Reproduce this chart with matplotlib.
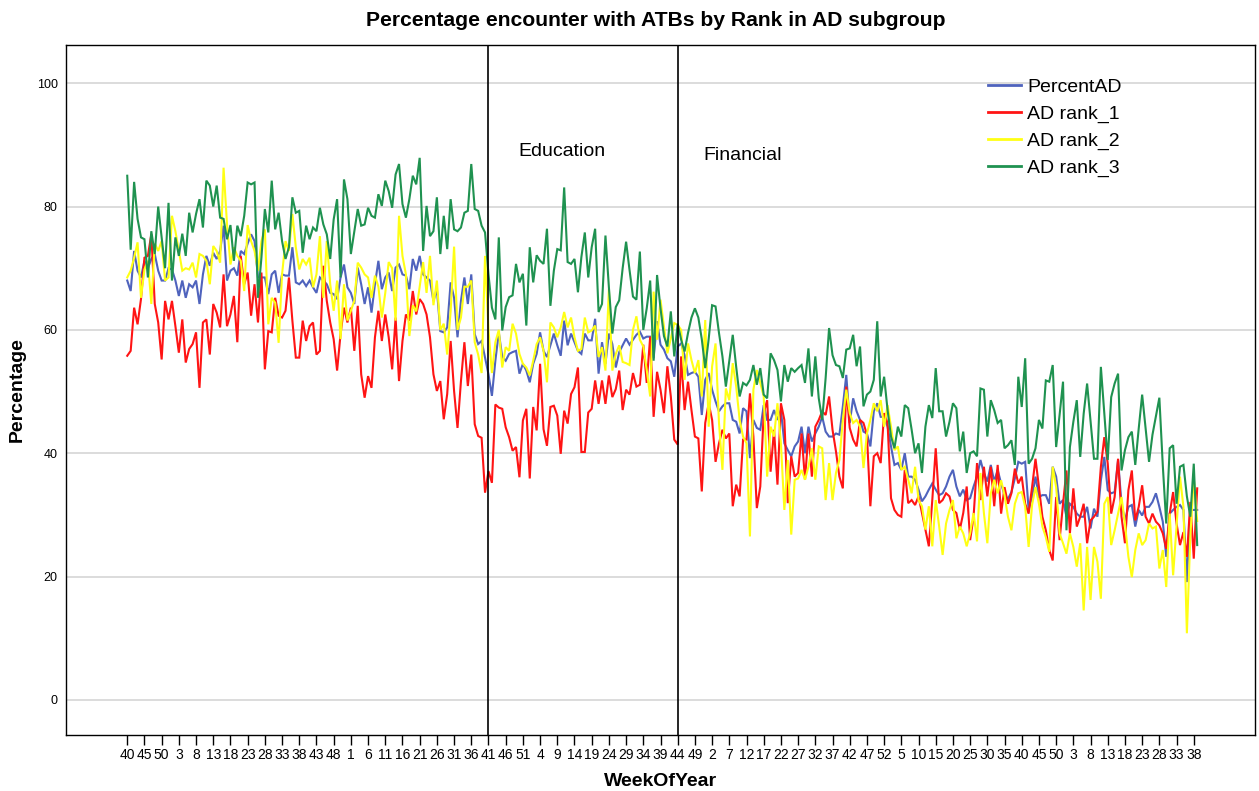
import matplotlib
matplotlib.use("Agg")
import matplotlib.pyplot as plt

plt.rcParams['font.family'] = ['Liberation Sans', 'DejaVu Sans']

tick_labels = ["40", "45", "50", "3", "8", "13", "18", "23", "28", "33", "38", "43", "48",
               "1", "6", "11", "16", "21", "26", "31", "36", "41", "46", "51",
               "4", "9", "14", "19", "24", "29", "34", "39", "44", "49",
               "2", "7", "12", "17", "22", "27", "32", "37", "42", "47", "52",
               "5", "10", "15", "20", "25", "30", "35", "40", "45", "50",
               "3", "8", "13", "18", "23", "28", "33", "38"]

percent_ad = [
    68, 66.3, 72.8, 69.6, 68.5, 71.2, 70, 71.5, 72.3, 69.6, 68, 68, 70, 69.8, 68, 65.5, 68, 65.2,
    67.4, 66.9, 68, 64.2, 69, 72, 70.4, 72.5, 71.5, 72.8, 76.9, 68, 69.6, 70, 68.8, 72.8, 72.3, 74,
    75.5, 74.4, 68.5, 68.5, 68.5, 65.8, 69, 69.6, 66, 69, 68.8, 68.8, 73.4, 67.7, 67.4, 68, 67.1, 68,
    66.9, 66, 68.5, 68, 67.4, 66, 65.8, 65, 68.5, 70.6, 66.9, 66, 64.2, 70.1, 67.4, 64.2, 66.9, 62.8, 67.4,
    71.2, 66.6, 68.5, 69.3, 66.3, 70.1, 70.6, 69, 68.8, 66.6, 71.5, 69.6, 72, 69, 68.5, 68, 64.7, 66.6,
    59.8, 59.6, 60.4, 67.7, 65.2, 58.8, 64.7, 68.5, 64.2, 69, 59.3, 57.7, 58.2, 55.5, 52.8, 49.3, 55, 59.6,
    55.6, 55, 56.1, 56.4, 56.6, 52.9, 54.5, 53.4, 51.5, 54.5, 56.1, 59.6, 56.6, 55.6, 57.5, 59.4, 57.5, 55.8,
    61.5, 57.5, 59.4, 58, 56.6, 56.1, 59.4, 58.3, 58.3, 61.8, 52.9, 58, 54.5, 59.4, 57.7, 53.9, 56.4, 57.5,
    58.6, 57.6, 58.4, 59.2, 59.7, 58.6, 58.9, 58.9, 55.4, 61.4, 57.6, 56.8, 55.4, 54.9, 52.4, 57.3, 57.8, 55.9,
    52.7, 53, 53.2, 52.4, 46.2, 51.9, 53, 50.3, 48.4, 46.8, 47.6, 48.1, 48.1, 45.4, 45.1, 43.2, 47.3, 46.8,
    39.2, 45.4, 44.1, 43.8, 47.8, 45.4, 45.4, 47, 45.4, 47, 41.6, 40.5, 39.5, 41.1, 41.9, 44.3, 40, 44.3, 41.9,
    43.2, 44.3, 45.9, 43.5, 42.7, 42.7, 43.2, 43, 47.6, 52.7, 44.9, 48.9, 46.8, 45.4, 43.5, 43.2, 41.1, 46.8,
    48.1, 45.9, 45.9, 44.3, 41.1, 38.1, 38.4, 37.3, 40, 36.2, 36.2, 35.7, 34.1, 32.2, 33, 34.1, 35.1, 34.1,
    33.2, 33.5, 34.6, 36.2, 37.3, 34.6, 33, 34.1, 32.4, 32.7, 34.6, 36.2, 38.9, 36.8, 35.4, 38.1, 35.4, 37.3,
    35.1, 33.2, 32.6, 33.7, 35.9, 38.6, 38.3, 38.6, 30.8, 32.9, 36.2, 32.9, 33.2, 33.2, 31.8, 37.8, 36.2, 31.8,
    32.4, 29.7, 31.8, 31.3, 30.2, 29.7, 29.7, 31.3, 27.8, 31, 29.7, 35.6, 39.4, 34, 33.5, 33.7, 38.9, 31.8, 29.1,
    31.3, 31.6, 28.1, 30.8, 29.9, 31.3, 31.3, 32.1, 33.5, 31.3, 28.9, 23.2, 30.2, 30.8, 31.3, 31.6, 30.8, 19.1,
    30.8, 30.8, 30.8]

ad_rank_1 = [
    55.8, 56.6, 63.6, 60.9, 65, 71.7, 72, 75.5, 64.2, 61.2, 55.2, 64.7, 61.7, 64.7, 60.6, 56.3, 61.7, 54.7,
    56.9, 57.7, 59.6, 50.6, 61.2, 61.7, 56, 64.2, 62.8, 60.4, 69, 60.6, 62.5, 65.5, 58, 72, 67.4, 69.3,
    62.3, 67.4, 61.2, 69.3, 53.6, 59.8, 59.6, 65.2, 62.3, 62, 63.1, 68.5, 61.5, 55.5, 55.5, 61.5, 58.2, 60.6,
    61.2, 56, 56.6, 70.4, 64.7, 61.2, 58.5, 53.4, 59.3, 63.6, 61.2, 63.6, 56.6, 63.9, 52.8, 49, 52.5, 50.6, 58.8,
    63.1, 58.2, 62.5, 58.8, 53.6, 62, 51.7, 58.2, 62.5, 61.5, 66.3, 62.5, 65, 64.2, 62.5, 58.8, 52.8, 50.1,
    51.7, 45.5, 49.6, 58.2, 50.1, 44.1, 51.7, 58, 50.9, 56, 44.7, 42.8, 42.5, 33.6, 37.1, 35.2, 47.9, 47.4,
    47.2, 44.2, 42.6, 40.4, 41, 36.1, 45.3, 47.2, 35.9, 47.5, 43.7, 54.5, 43.9, 41.2, 47.5, 47.7, 46.1, 39.9,
    46.9, 44.8, 49.6, 50.7, 53.9, 40.2, 40.2, 46.6, 47.2, 51.8, 48, 51.8, 48, 52.6, 49.1, 50.4, 53.4, 47,
    50.3, 49.5, 53, 50.8, 51.1, 57.6, 51.4, 58.9, 45.9, 53.2, 50.3, 46.5, 54.1, 49.2, 42.2, 41.4, 55.7, 47,
    51.6, 47, 42.7, 42.4, 33.8, 44.9, 48.1, 45.4, 38.6, 41.6, 43.8, 42.4, 43.2, 31.4, 34.9, 33, 42.2, 42.2,
    49.7, 42.7, 31.1, 34.6, 46.5, 48.6, 37, 43.8, 34.9, 48.1, 45.4, 31.9, 39.5, 36.2, 36.8, 43.2, 35.7, 43.2, 36.2,
    44.3, 45.4, 46.8, 46.2, 49.2, 43.8, 40.3, 36.2, 34.3, 50.8, 44.1, 42.2, 41.1, 45.4, 44.9, 43, 31.4, 39.5,
    40, 38.4, 46.5, 44.9, 32.7, 30.8, 30, 29.7, 37.3, 31.9, 32.4, 31.6, 33, 30.3, 27.6, 24.9, 32.4, 40.8,
    31.9, 32.4, 33.5, 33, 30.8, 30.3, 27.6, 30.3, 34.6, 25.9, 29.7, 38.4, 32.4, 37.8, 33, 37.8, 31.4, 38.1,
    30.2, 34.5, 31.8, 33.5, 37.5, 35.1, 36.2, 31.8, 30.2, 34.5, 39.1, 34.5, 29.7, 27.5, 24.3, 22.6, 32.9, 25.9,
    31.8, 37.2, 27, 34.3, 28.1, 29.7, 31.8, 25.4, 29.1, 29.7, 30.5, 37.8, 42.6, 38.3, 30.2, 32.9, 39.1, 29.7, 25.4,
    34, 37.2, 29.1, 31.3, 34.8, 29.7, 28.6, 30.2, 28.9, 28.3, 27, 24.5, 30.2, 33.7, 28.6, 25.1, 27.2, 23.2,
    32.1, 22.9, 34.3]

ad_rank_2 = [
    68.5, 69.6, 71.7, 74.2, 65.2, 69.8, 71.2, 64.2, 74, 72.8, 74.4, 68, 68.5, 78.5, 76, 72.8, 69.6, 70,
    69.8, 70.9, 68.5, 72.3, 72, 71.2, 67.4, 73.6, 72.8, 70.9, 86.3, 77.1, 70.6, 73.4, 72, 71.2, 66.3, 77,
    74.4, 72.8, 69.6, 74.4, 76.3, 60.9, 65.2, 64.4, 57.9, 69, 74.4, 72.8, 78.8, 73.4, 69.8, 71.5, 70.6, 71.7,
    66.9, 69, 75.2, 65.2, 74.4, 67.4, 63.1, 68, 58.5, 67.4, 61.5, 63.1, 64.7, 70.9, 70.1, 69, 68.5, 65.2, 68.8,
    67, 62, 66, 71, 70, 61.5, 78.5, 72, 69, 59, 64, 63, 67, 71, 66, 72, 64, 68,
    60, 61, 56, 63, 73.5, 60, 62, 67, 67, 68, 58, 56, 53, 72, 60, 53, 58, 60,
    53.9, 57.2, 56.6, 61, 59.4, 56.1, 54.5, 53.9, 52.6, 55, 57.7, 58.8, 56.6, 51.5, 61.2, 60.4, 58.8, 60.4,
    62.9, 60.4, 62, 58.8, 56.6, 56.9, 62, 59.6, 59.9, 60.7, 55.6, 57.2, 53.4, 66.6, 53.4, 56.1, 57.5, 54.8,
    54.6, 54.3, 60, 62.2, 58.4, 57.3, 53.5, 49.2, 66.2, 58.4, 64.9, 60.5, 56.2, 58.6, 61.1, 60.8, 60, 51.9,
    57.8, 55.1, 53, 55.1, 49.2, 61.6, 44.3, 54.1, 57.8, 44.9, 37.3, 50.5, 48.6, 54.6, 50.8, 45.4, 42.7, 41.6,
    26.5, 50.3, 53.5, 51.4, 49.2, 36.2, 44.3, 42.7, 48.1, 41.6, 30.8, 38.9, 26.8, 35.7, 35.9, 37.3, 35.7, 37.8, 40.8,
    35.7, 41.1, 40.8, 32.4, 38.4, 32.4, 36.8, 38.9, 45.4, 50.3, 46.5, 44.9, 45.4, 44.3, 37.6, 43.2, 45.4, 48.1,
    46.8, 48.6, 44.3, 47.8, 44.3, 40.5, 41.1, 37.3, 37.8, 35.7, 33.5, 37.8, 32.4, 31.4, 27.6, 31.4, 24.9, 32.4,
    28.1, 23.5, 28.6, 30.8, 32.4, 26.2, 28.1, 27, 24.9, 27, 30.3, 25.7, 36.8, 30.3, 25.4, 33.5, 35.7, 33.5,
    35.6, 33.2, 29.7, 27.5, 31.8, 33.5, 33.7, 31.3, 24.8, 31.6, 34.5, 31.8, 28.1, 26.4, 24, 37.8, 34.5, 27,
    25.4, 23.7, 27, 24.8, 21.6, 25.4, 14.5, 24.8, 16.2, 24.8, 22.4, 16.4, 31.8, 32.9, 25.1, 27.5, 30.2, 32.9, 28.6,
    23.2, 19.9, 24.3, 27, 25.1, 25.9, 28.6, 27.8, 28.1, 21.3, 24.3, 18.3, 30.2, 20.2, 28.1, 36.2, 31.3, 10.8,
    26.4, 36, 29]

ad_rank_3 = [
    85, 73, 84, 78, 75, 74.7, 68.5, 76, 72.3, 80, 75, 70, 80.6, 68, 75, 72, 75.6, 72,
    79, 75.8, 78.8, 81.2, 76.6, 84.2, 83.4, 80, 83.4, 78.2, 78, 74.7, 77, 71.2, 76.9, 75.2, 78.5, 83.9,
    83.6, 83.9, 65.2, 71.7, 79.6, 75.8, 84.2, 76.3, 79, 74.4, 71.5, 73.4, 81.5, 79, 79.3, 72.5, 76.9, 74.7,
    76.6, 76, 79.8, 77.1, 75.5, 71.5, 77.9, 81.2, 68.5, 84.4, 81.2, 72.3, 76, 79.6, 76.9, 77.1, 79.8, 78.5, 78.2,
    82, 80.1, 84.2, 82.5, 79.8, 85.2, 86.9, 80.4, 78.2, 81.2, 85, 83.6, 87.9, 72.8, 80.1, 75.2, 76, 81.5,
    72.3, 78.5, 73.1, 81.2, 76.3, 76, 76.6, 79, 79.3, 86.9, 79.6, 79.3, 76.9, 75.8, 69, 63.6, 61.7, 75,
    59.9, 63.7, 65.3, 65.6, 70.7, 67.7, 69.1, 60.7, 73.4, 67.7, 72.1, 71.2, 70.7, 76.4, 63.9, 69.6, 73.1, 72.9,
    83.1, 71, 70.7, 71.5, 66.1, 71.8, 75.8, 68.5, 73.4, 76.4, 62.9, 64.2, 75.3, 66.9, 59.4, 63.7, 64.8, 70,
    74.3, 69.7, 65.4, 64.9, 72.7, 60, 63.5, 68, 55, 68.9, 63.5, 59, 57.3, 63, 55.7, 61, 58.4, 56.5,
    59.5, 62, 63.5, 62, 58.5, 53.8, 58.5, 64, 63.8, 59.5, 55.7, 50.8, 55, 59.2, 54, 49.2, 51.4, 51,
    51.9, 54.3, 51.1, 53.8, 49.5, 48.9, 56.2, 55.1, 53.5, 48.4, 54.3, 51.6, 53.8, 53.2, 53.8, 54.3, 51.4, 57, 49.2,
    55.7, 48.9, 45.4, 52.2, 60.3, 55.9, 54.3, 54.1, 52.2, 56.8, 57, 59.2, 54.1, 57.3, 47.6, 49.5, 50, 51.9,
    61.4, 49.2, 52.4, 47, 42.7, 40.8, 44.3, 42.7, 47.8, 47.3, 43.8, 40, 41.6, 36.8, 44.3, 47.8, 45.7, 53.8,
    46.8, 46.8, 42.7, 45.1, 48.1, 47.3, 40.3, 43.5, 36.8, 40, 40.3, 39.5, 50.5, 50.3, 42.7, 48.6, 47, 44.9,
    45.4, 40.8, 41.3, 42.1, 38.1, 52.4, 47.5, 55.4, 38.3, 39.1, 40.8, 45.4, 44, 51.8, 51.6, 54.3, 41, 46.2,
    51.6, 27.5, 41, 45.1, 48.6, 39.4, 46.4, 51.3, 45.1, 39.1, 39.1, 54, 46.4, 38.9, 49.1, 51.3, 52.9, 37.2, 40.5,
    42.6, 43.5, 38.1, 44, 49.5, 44, 38.6, 43, 46, 49, 38, 28.6, 40.8, 41.3, 31.8, 37.8, 38.1, 33,
    29.7, 38.3, 25.1]

series_names = ["PercentAD", "AD rank_1", "AD rank_2", "AD rank_3"]
series_colors = ["#4f63bd", "#ff1414", "#ffff14", "#1f9250"]

period_lines = [105, 160]
period_labels = ["Education", "Financial"]

W, H = 1259, 791
fig = plt.figure(figsize=(W / 100, H / 100), dpi=100)
ax = fig.add_axes([66 / W, 1 - 735 / H, (1255 - 66) / W, (735 - 45) / H])

x = list(range(len(percent_ad)))
for vals, name, col in zip([percent_ad, ad_rank_1, ad_rank_2, ad_rank_3], series_names, series_colors):
    ax.plot(x, vals, color=col, lw=1.5, label=name, solid_joinstyle='miter', zorder=3)

for xv in period_lines:
    ax.axvline(xv, color='black', lw=1.2, zorder=4)

ax.text(126.4, 89, period_labels[0], fontsize=14, ha='center', va='center')
ax.text(179, 88.2, period_labels[1], fontsize=14, ha='center', va='center')

ax.set_xlim(-17.8, 327.8)
ax.set_ylim(-5.7, 106.2)
ax.set_yticks([0, 20, 40, 60, 80, 100])
ax.set_xticks(list(range(0, 5 * len(tick_labels), 5)))
ax.set_xticklabels(tick_labels, fontsize=10)
ax.tick_params(axis='y', labelsize=9, length=0, pad=6)
ax.tick_params(axis='x', length=7.5, width=1, pad=2)
ax.grid(axis='y', color='#d9d9d9', lw=1.3, zorder=0)
ax.set_axisbelow(True)
for sp in ax.spines.values():
    sp.set_color('black')
    sp.set_linewidth(1)

ax.set_xlabel("WeekOfYear", fontsize=14, fontweight='bold', labelpad=8)
ax.set_ylabel("Percentage", fontsize=14, fontweight='bold', labelpad=8)
fig.text(656 / W, 1 - 20 / H, "Percentage encounter with ATBs by Rank in AD subgroup",
         fontsize=15.2, fontweight='bold', ha='center', va='center')

leg = ax.legend(loc='upper left', bbox_to_anchor=((988 - 66) / 1189, (735 - 78) / 690),
                frameon=False, fontsize=14, handlelength=1.7, handletextpad=0.3,
                labelspacing=0.48, borderpad=0, borderaxespad=0)
for line in leg.get_lines():
    line.set_linewidth(2)

fig.savefig("out.png", dpi=100)
